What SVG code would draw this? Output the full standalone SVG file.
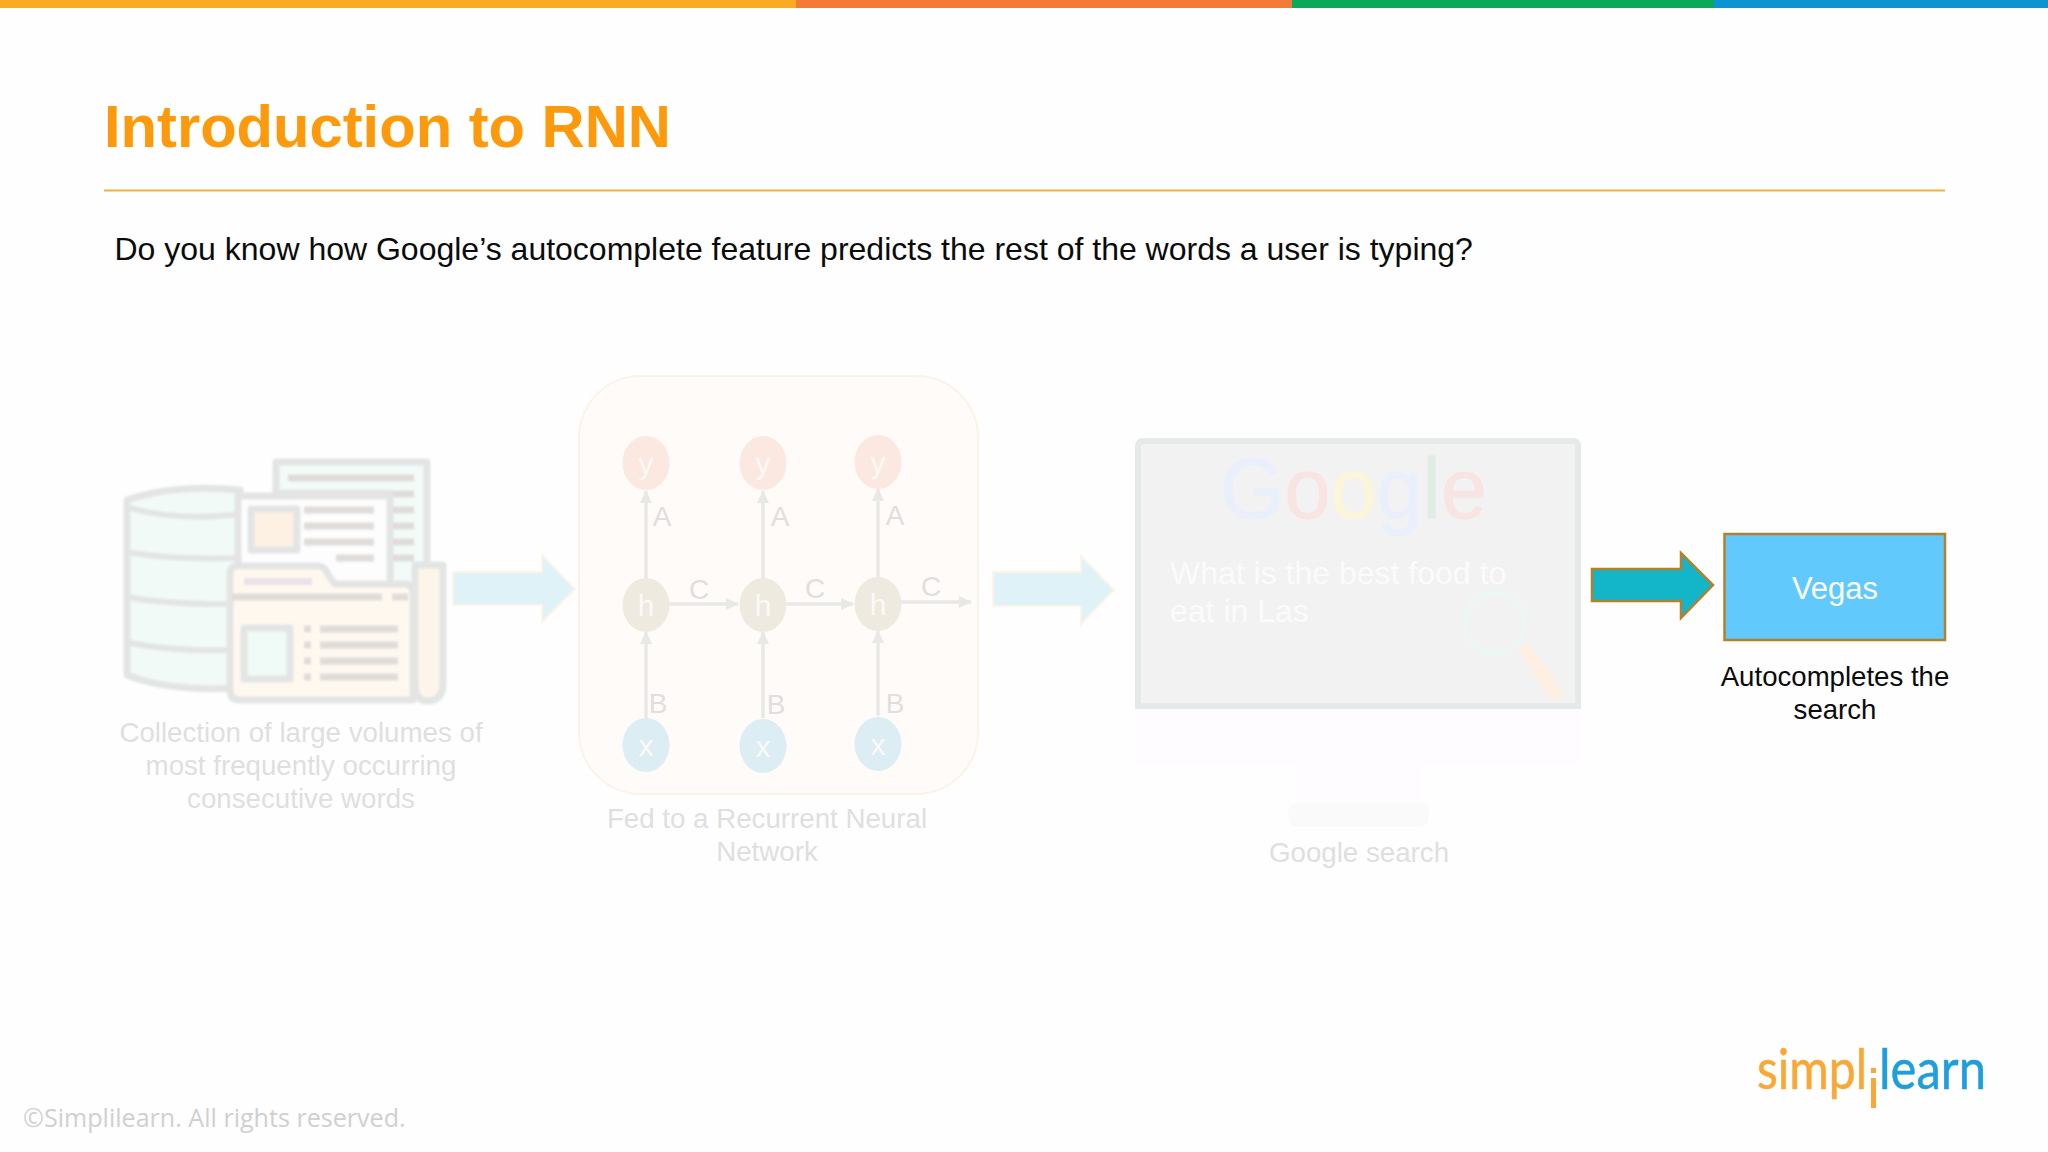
<svg xmlns="http://www.w3.org/2000/svg" width="2048" height="1152" viewBox="0 0 2048 1152">
<defs>
<marker id="ah" markerUnits="userSpaceOnUse" markerWidth="14" markerHeight="14" refX="12" refY="7" orient="auto"><path d="M0,1 L13,7 L0,13 Z" fill="#e8e8e6"/></marker>
<filter id="soft" x="-5%" y="-5%" width="110%" height="110%"><feGaussianBlur stdDeviation="0.8"/></filter>
</defs>
<style>
text{font-family:"Liberation Sans",Arial,sans-serif}
.cap{font-size:27.7px;fill:#dfdfe1;text-anchor:middle}
.blk{font-size:27.6px;fill:#0b0b0b;text-anchor:middle}
.ic{stroke:#e3e5e4;stroke-width:7;stroke-linejoin:round}
.ln{stroke:#e3e5e4;stroke-width:6;fill:none}
.dk{stroke:#e0dcd9;stroke-width:7;fill:none}
.lbl{font-size:28px;fill:#e0dede;text-anchor:middle}
.nt{font-size:30px;fill:#fbf9f7;text-anchor:middle}
.cy{fill:#fbe8e0}.ch{fill:#eeeadf}.cx{fill:#dcedf4}
.wire{stroke:#e8e8e6;stroke-width:3.5;fill:none;marker-end:url(#ah)}
.flow{fill:#def2f8;stroke:#fdf4e8;stroke-width:2}
.faded{filter:url(#soft)}
</style>
<rect width="2048" height="1152" fill="#fefefe"/>
<g id="topbar">
<rect x="0" y="0" width="796" height="8" fill="#fbab23"/>
<rect x="796" y="0" width="496" height="8" fill="#f47b36"/>
<rect x="1292" y="0" width="422" height="8" fill="#0ba858"/>
<rect x="1714" y="0" width="334" height="8" fill="#0d93d2"/>
</g>
<g id="title">
<text x="104" y="147" font-size="59.7" font-weight="700" fill="#fd9a0c">Introduction to RNN</text>
<rect x="104" y="189.500" width="1841" height="2" fill="#f1b045"/>
<text x="114.500" y="259.500" font-size="32" fill="#0b0b0b">Do you know how Google’s autocomplete feature predicts the rest of the words a user is typing?</text>
</g>
<g id="node-data" class="faded">
<path class="ic" d="M127,500 Q175,484 240,490 L240,688 Q170,692 127,675 Z" fill="#f1faf6"/>
<path class="ln" d="M127,507 Q175,522 240,514 M127,552 Q170,560 240,558 M127,597 Q170,605 240,604 M127,642 Q170,652 240,650"/>
<path class="ic" d="M276,462 H427 V646 H390 V493 H276 Z" fill="#f3fbf9"/>
<path class="dk" d="M288,478 H414 M392,494 H414 M392,510 H414 M392,526 H414 M392,542 H414 M392,558 H414"/>
<rect class="ic" x="238" y="496" width="152" height="100" fill="#fdfdfd"/>
<rect class="ic" x="251" y="509" width="46" height="41" fill="#fdf1e4"/>
<path class="dk" d="M304,510 H374 M304,526 H374 M304,542 H374 M336,558 H374"/>
<path class="ic" d="M415,565 H443 V683 Q443,701 427,701 Q415,701 415,683 Z" fill="#fdf5e9"/>
<path class="ic" d="M238,566 H318 Q325,566 329,576 L335,584 H405 Q413,584 413,594 V700 H240 Q230,700 230,690 V574 Q230,566 238,566 Z" fill="#fff8ef"/>
<path class="dk" d="M232,597 H382 M392,597 H408"/>
<rect x="244" y="578" width="68" height="7" fill="#e9e2e9"/>
<rect class="ic" x="244" y="628" width="46" height="51" fill="#f0faf6"/>
<path class="dk" d="M304,629 H311 M304,645 H311 M304,661 H311 M304,677 H311 M320,629 H398 M320,645 H398 M320,661 H398 M320,677 H398"/>
</g>
<g id="data-caption">
<text class="cap" x="301" y="742">Collection of large volumes of</text>
<text class="cap" x="301" y="775">most frequently occurring</text>
<text class="cap" x="301" y="808">consecutive words</text>
</g>
<g id="node-rnn">
<rect x="579" y="376" width="399" height="418" rx="62" fill="#fffbf9" stroke="#fbf3e7" stroke-width="2"/>
<text class="cap" x="767" y="828">Fed to a Recurrent Neural</text>
<text class="cap" x="767" y="861">Network</text>
</g>
<g id="connectors">
<path class="flow" d="M453,572 H542 V555 L575,589 L542,622 V605 H453 Z"/>
<path class="flow" d="M993,572 H1081 V556 L1114,590 L1081,624 V606 H993 Z"/>
<path d="M1592,569 H1681 V553 L1713,585 L1681,618 V601 H1592 Z" fill="#13b5c9" stroke="#b5802c" stroke-width="2.500"/>
<path class="wire" d="M646,579 V491"/><path class="wire" d="M763,579 V491"/><path class="wire" d="M878,577 V489"/>
<path class="wire" d="M646,718 V632"/><path class="wire" d="M763,718 V632"/><path class="wire" d="M878,716 V631"/>
<path class="wire" d="M669,604 H738"/><path class="wire" d="M786,604 H853"/><path class="wire" d="M901,602 H971"/>
</g>
<g id="rnn-y1"><ellipse class="cy" cx="646" cy="463" rx="23.500" ry="27"/><text class="nt" x="646" y="474">y</text></g>
<g id="rnn-y2"><ellipse class="cy" cx="763" cy="463" rx="23.500" ry="27"/><text class="nt" x="763" y="474">y</text></g>
<g id="rnn-y3"><ellipse class="cy" cx="878" cy="462" rx="23.500" ry="27"/><text class="nt" x="878" y="473">y</text></g>
<g id="rnn-h1"><ellipse class="ch" cx="646" cy="605" rx="23.500" ry="27"/><text class="nt" x="646" y="616">h</text></g>
<g id="rnn-h2"><ellipse class="ch" cx="763" cy="605" rx="23.500" ry="27"/><text class="nt" x="763" y="616">h</text></g>
<g id="rnn-h3"><ellipse class="ch" cx="878" cy="604" rx="23.500" ry="27"/><text class="nt" x="878" y="615">h</text></g>
<g id="rnn-x1"><ellipse class="cx" cx="646" cy="745" rx="23.500" ry="27"/><text class="nt" x="646" y="756">x</text></g>
<g id="rnn-x2"><ellipse class="cx" cx="763" cy="746" rx="23.500" ry="27"/><text class="nt" x="763" y="757">x</text></g>
<g id="rnn-x3"><ellipse class="cx" cx="878" cy="744" rx="23.500" ry="27"/><text class="nt" x="878" y="755">x</text></g>
<g id="rnn-labels">
<text class="lbl" x="662" y="526">A</text><text class="lbl" x="780" y="526">A</text><text class="lbl" x="895" y="525">A</text>
<text class="lbl" x="658" y="713">B</text><text class="lbl" x="776" y="714">B</text><text class="lbl" x="895" y="713">B</text>
<text class="lbl" x="699" y="599">C</text><text class="lbl" x="815" y="598">C</text><text class="lbl" x="931" y="596">C</text>
</g>
<g id="node-monitor">
<rect x="1135" y="708" width="446" height="57" fill="#fefcfe"/>
<rect x="1297" y="765" width="123" height="40" fill="#fefcfe"/>
<rect x="1288" y="803" width="141" height="24" rx="9" fill="#fbfafb"/>
<path d="M1135,709 V446 Q1135,438 1143,438 H1573 Q1581,438 1581,446 V709 Z" fill="#f2f2f3"/>
<path d="M1138,706 V447 Q1138,441 1144,441 H1572 Q1578,441 1578,447 V706 Z" fill="none" stroke="#e6e9e9" stroke-width="6"/>
<text x="1220" y="518" font-size="85" stroke-width="0.8" textLength="267" lengthAdjust="spacingAndGlyphs"><tspan fill="#e9effb" stroke="#e9effb">G</tspan><tspan fill="#f8e4e2" stroke="#f8e4e2">o</tspan><tspan fill="#fbf5da" stroke="#fbf5da">o</tspan><tspan fill="#e9effb" stroke="#e9effb">g</tspan><tspan fill="#dfede5" stroke="#dfede5">l</tspan><tspan fill="#f8e4e2" stroke="#f8e4e2">e</tspan></text>
<text x="1170" y="584" font-size="32" fill="#fbfbfb">What is the best food to</text>
<text x="1170" y="622" font-size="32" fill="#fbfbfb">eat in Las</text>
<circle cx="1495" cy="623" r="30" fill="none" stroke="#ecf6f2" stroke-width="5"/>
<path d="M1518,649 L1526,642 Q1552,672 1565,697 L1552,700 Q1535,680 1518,649 Z" fill="#fdf0e2"/>
<text class="cap" x="1359" y="862">Google search</text>
</g>
<g id="node-vegas">
<rect x="1724.500" y="534" width="220.500" height="106" fill="#62c9fd" stroke="#b5802c" stroke-width="2.500"/>
<text x="1835" y="599" font-size="31" fill="#fdfdfd" text-anchor="middle">Vegas</text>
<text class="blk" x="1835" y="686">Autocompletes the</text>
<text class="blk" x="1835" y="719">search</text>
</g>
<g id="logo">
<text x="1757" y="1089" font-size="56" stroke="#f9a836" stroke-width="0.500" style="font-family:Lato,sans-serif" fill="#f9a836" textLength="110" lengthAdjust="spacingAndGlyphs">simpl</text>
<rect x="1871" y="1068" width="5" height="5" fill="#f9a836"/>
<rect x="1871" y="1078" width="5" height="30" fill="#f9a836"/>
<text x="1879" y="1089" font-size="56" stroke="#1e9fdc" stroke-width="0.500" style="font-family:Lato,sans-serif" fill="#1e9fdc" textLength="107" lengthAdjust="spacingAndGlyphs">learn</text>
</g>
<text id="copyright" x="23" y="1127" font-size="25.100" style="font-family:'Open Sans',sans-serif" fill="#d0d0d0">©Simplilearn. All rights reserved.</text>
</svg>
